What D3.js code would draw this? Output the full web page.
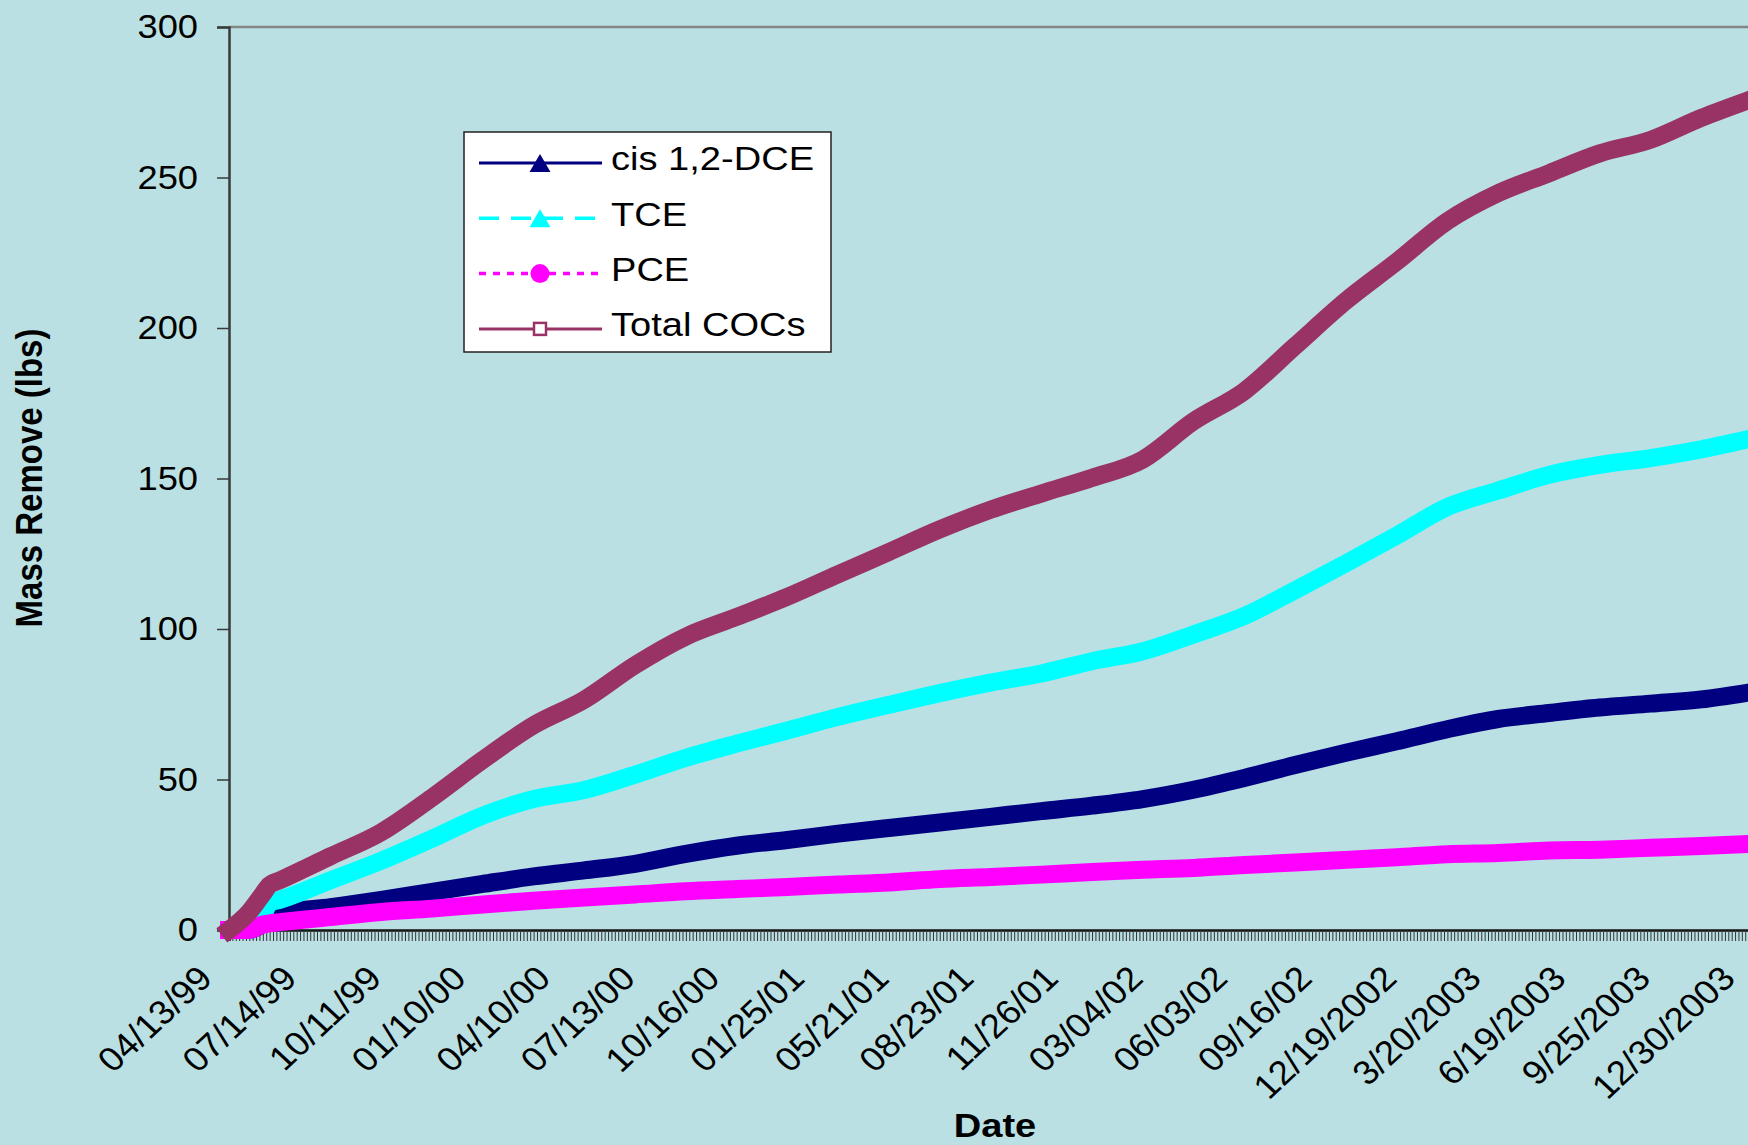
<!DOCTYPE html>
<html>
<head>
<meta charset="utf-8">
<script src="https://cdn.jsdelivr.net/npm/d3@7"></script>
<style>
  body { margin: 0; background: #bae0e3; }
  text { font-family: Arial, "Liberation Sans", sans-serif; fill: #000; }
</style>
</head>
<body>
<div id="chart"></div>
<script>
// category index of each reading (one category = one sample, 450 samples shown)
const sampleIndex = [0, 6, 10, 12, 15, 30, 45, 60, 75, 90, 105, 120, 135, 150, 165, 180, 195,
  210, 225, 240, 255, 270, 285, 300, 315, 330, 345, 360, 375, 390, 405, 420, 435, 449];

const dce = [0, 0, 2, 3.5, 5.3, 7.6, 10, 12.7, 15.3, 17.8, 19.8, 22, 25.3, 28, 29.9, 32, 33.9,
  35.7, 37.6, 39.5, 41.3, 43.5, 46.6, 50.5, 54.8, 58.9, 62.7, 66.7, 70.1, 72.1, 73.9, 75.2, 76.6, 78.9];
const tce = [0, 0, 5, 9, 10, 16.5, 23, 30.3, 38, 43.5, 46.5, 51.6, 57.2, 61.9, 66.3, 70.8, 74.8,
  78.7, 82.2, 85.2, 89.3, 92.6, 98.2, 104.3, 112.9, 121.8, 131, 140.5, 146, 151.2, 154.5, 156.8, 159.7, 163.1];
const pce = [0, 0, 1.8, 2.2, 2.6, 4.3, 6, 7.1, 8.5, 9.7, 10.8, 11.8, 12.9, 13.6, 14.3, 15.1, 15.8,
  16.9, 17.6, 18.4, 19.3, 20, 20.6, 21.6, 22.4, 23.3, 24.2, 25.2, 25.6, 26.4, 26.7, 27.3, 27.9, 28.6];
const totalCocs = [0, 6, 12, 15, 16.5, 24.5, 32.5, 44, 56.5, 68, 76.5, 88, 97.5, 104, 110.7, 118.2, 125.6,
  133.1, 139.6, 145, 150.2, 156.3, 169, 179, 194, 209, 222, 235.5, 244.8, 251.4, 258, 262.5, 269.8, 275.7];

const tickLabels = ['04/13/99', '07/14/99', '10/11/99', '01/10/00', '04/10/00', '07/13/00', '10/16/00',
  '01/25/01', '05/21/01', '08/23/01', '11/26/01', '03/04/02', '06/03/02', '09/16/02', '12/19/2002',
  '3/20/2003', '6/19/2003', '9/25/2003', '12/30/2003'];
const labelEvery = 25;
const nCategories = 450;
const yTicks = [0, 50, 100, 150, 200, 250, 300];

const width = 1748, height = 1145;
const plot = { left: 229, top: 27, bottom: 930, right: 1752 };

const svg = d3.select('#chart').append('svg')
  .attr('width', width).attr('height', height);

svg.append('rect').attr('width', width).attr('height', height).attr('fill', '#bae0e3');

const x = d3.scaleLinear().domain([0, nCategories]).range([plot.left, plot.right]);
const y = d3.scaleLinear().domain([0, 300]).range([plot.bottom, plot.top]);

// top border of plot area
svg.append('line')
  .attr('x1', plot.left).attr('x2', width)
  .attr('y1', plot.top).attr('y2', plot.top)
  .attr('stroke', '#858585').attr('stroke-width', 2.5);

// y axis
const yAxis = svg.append('g')
  .attr('transform', `translate(${plot.left},0)`)
  .call(d3.axisLeft(y).tickValues(yTicks).tickSize(12).tickPadding(20));
yAxis.select('.domain').attr('stroke', '#3a3a3a').attr('stroke-width', 2.5);
yAxis.selectAll('.tick line').attr('stroke', '#3a3a3a').attr('stroke-width', 1.5);
yAxis.selectAll('.tick text')
  .style('font-size', '33px')
  .attr('transform', 'scale(1.1,1)')
  .attr('x', -31 / 1.1);

// x axis: one tick per category
const xAxis = svg.append('g')
  .attr('transform', `translate(0,${plot.bottom})`)
  .call(d3.axisBottom(x).tickValues(d3.range(0, nCategories + 1)).tickSize(11).tickFormat(''));
xAxis.select('.domain').attr('stroke', '#111').attr('stroke-width', 2.5);
xAxis.selectAll('.tick line').attr('stroke', '#333').attr('stroke-width', 1);

// rotated date labels
svg.append('g')
  .selectAll('text')
  .data(tickLabels)
  .join('text')
  .attr('transform', (d, i) => `translate(${x(i * labelEvery) - 24},${plot.bottom + 42}) scale(1.08,1) rotate(-45)`)
  .attr('text-anchor', 'end')
  .attr('dy', '0.35em')
  .style('font-size', '34px')
  .text(d => d);

// series
const series = [
  { name: 'cis 1,2-DCE', values: dce, color: '#000080', dash: null, marker: 'triangle' },
  { name: 'TCE', values: tce, color: '#00ffff', dash: '20,12', marker: 'triangle' },
  { name: 'PCE', values: pce, color: '#ff00ff', dash: '7,7', marker: 'circle' },
  { name: 'Total COCs', values: totalCocs, color: '#993366', dash: null, marker: 'square' },
];

const line = d3.line()
  .x((d, i) => x(sampleIndex[i]))
  .y(d => y(d))
  .curve(d3.curveMonotoneX);

svg.append('g')
  .selectAll('path')
  .data(series)
  .join('path')
  .attr('d', d => line(d.values))
  .attr('fill', 'none')
  .attr('stroke', d => d.color)
  .attr('stroke-width', 18)
  .attr('stroke-linecap', 'square')
  .attr('stroke-linejoin', 'round');

// legend
const legend = svg.append('g');
legend.append('rect')
  .attr('x', 464).attr('y', 132)
  .attr('width', 367).attr('height', 220)
  .attr('fill', '#fff').attr('stroke', '#222').attr('stroke-width', 1.5);

const rows = legend.selectAll('g.row')
  .data(series)
  .join('g')
  .attr('class', 'row')
  .attr('transform', (d, i) => `translate(0,${163 + i * 55.3})`);

rows.append('line')
  .attr('x1', 479).attr('x2', 602)
  .attr('stroke', d => d.color)
  .attr('stroke-width', d => d.dash ? 3.5 : 3)
  .attr('stroke-dasharray', d => d.dash);

rows.each(function (d) {
  const g = d3.select(this);
  if (d.marker === 'triangle') {
    g.append('path').attr('d', 'M540,-9 L550.5,9 L529.5,9 Z').attr('fill', d.color);
  } else if (d.marker === 'circle') {
    g.append('circle').attr('cx', 540).attr('r', 9.5).attr('fill', d.color);
  } else {
    g.append('rect').attr('x', 534).attr('y', -6).attr('width', 12).attr('height', 12)
      .attr('fill', '#fff').attr('stroke', d.color).attr('stroke-width', 2.5);
  }
});

rows.append('text')
  .attr('transform', 'translate(611,0) scale(1.12,1)')
  .attr('dy', '0.22em')
  .style('font-size', '34px')
  .text(d => d.name);

// axis titles
svg.append('text')
  .attr('transform', 'translate(42,478) scale(1.1,1) rotate(-90)')
  .attr('text-anchor', 'middle')
  .style('font-size', '33px').style('font-weight', 'bold')
  .text('Mass Remove (lbs)');

svg.append('text')
  .attr('transform', 'translate(995,1137) scale(1.12,1)')
  .attr('text-anchor', 'middle')
  .style('font-size', '34px').style('font-weight', 'bold')
  .text('Date');
</script>
</body>
</html>
